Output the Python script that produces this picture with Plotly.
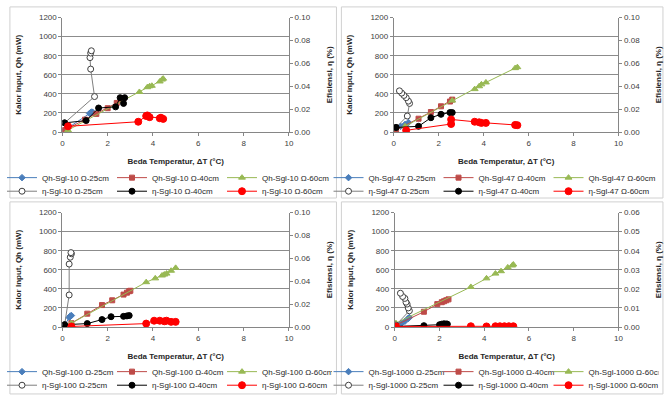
import plotly.graph_objects as go

# ---------------- DATA ----------------
x_ticks = [0, 2, 4, 6, 8, 10]

# Panel 1 : Sgl-10
p1_qh25_x = [0.1, 1.2, 1.25, 1.3, 1.35]
p1_qh25_y = [20, 195, 205, 210, 205]
p1_qh40_x = [0.1, 1.0, 1.5, 2.0, 2.4, 2.6, 2.7]
p1_qh40_y = [20, 130, 190, 250, 305, 340, 355]
p1_qh60_x = [0.25, 3.4, 3.75, 3.85, 3.95, 4.3, 4.4, 4.45]
p1_qh60_y = [20, 420, 470, 480, 485, 530, 550, 560]
p1_e25_x = [0.1, 1.42, 1.25, 1.22, 1.25, 1.28]
p1_e25_y = [0.008, 0.031, 0.055, 0.065, 0.069, 0.071]
p1_e40_x = [0.1, 1.05, 1.6, 2.35, 2.55, 2.75, 2.7]
p1_e40_y = [0.008, 0.010, 0.021, 0.022, 0.030, 0.030, 0.025]
p1_e60_x = [0.25, 3.35, 3.7, 3.75, 3.85, 4.3, 4.35, 4.45]
p1_e60_y = [0.005, 0.009, 0.014, 0.0145, 0.013, 0.012, 0.0125, 0.0115]

# Panel 2 : Sgl-47
p2_qh25_x = [0.1, 0.3, 0.5, 0.65]
p2_qh25_y = [40, 60, 80, 100]
p2_qh40_x = [0.1, 1.1, 1.65, 2.1, 2.5, 2.6]
p2_qh40_y = [20, 140, 210, 270, 320, 340]
p2_qh60_x = [0.5, 2.6, 3.6, 3.8, 3.9, 4.1, 5.4, 5.5]
p2_qh60_y = [60, 330, 450, 480, 500, 520, 670, 680]
p2_e25_x = [0.1, 0.6, 0.7, 0.65, 0.55, 0.45, 0.35, 0.25]
p2_e25_y = [0.004, 0.014, 0.025, 0.027, 0.030, 0.032, 0.034, 0.036]
p2_e40_x = [0.1, 1.1, 1.65, 2.1, 2.5, 2.6]
p2_e40_y = [0.004, 0.005, 0.0125, 0.0155, 0.017, 0.017]
p2_e60_x = [0.55, 2.55, 2.55, 3.6, 3.8, 3.9, 4.1, 5.4, 5.5]
p2_e60_y = [0.0015, 0.007, 0.011, 0.009, 0.0085, 0.008, 0.008, 0.0062, 0.006]

# Panel 3 : Sgl-100
p3_qh25_x = [0.1, 0.3, 0.35, 0.4]
p3_qh25_y = [20, 100, 115, 120]
p3_qh40_x = [0.4, 1.1, 1.75, 2.2, 2.7, 2.85, 2.95, 3.0]
p3_qh40_y = [40, 140, 230, 280, 340, 360, 375, 380]
p3_qh60_x = [0.4, 3.7, 4.1, 4.4, 4.5, 4.6, 4.8, 5.0]
p3_qh60_y = [40, 470, 510, 540, 550, 560, 590, 620]
p3_e25_x = [0.1, 0.3, 0.3, 0.35, 0.4, 0.38]
p3_e25_y = [0.002, 0.028, 0.055, 0.061, 0.064, 0.065]
p3_e40_x = [0.1, 1.1, 1.75, 2.15, 2.7, 2.85, 2.95]
p3_e40_y = [0.002, 0.003, 0.0065, 0.009, 0.0093, 0.0097, 0.010]
p3_e60_x = [0.4, 3.7, 4.05, 4.3, 4.5, 4.6, 4.8, 5.0]
p3_e60_y = [0.0005, 0.003, 0.0055, 0.0055, 0.005, 0.0055, 0.0045, 0.0045]

# Panel 4 : Sgl-1000
p4_qh25_x = [0.05, 0.3, 0.45, 0.6, 0.65]
p4_qh25_y = [20, 40, 60, 90, 100]
p4_qh40_x = [0.05, 1.3, 1.9, 2.1, 2.2, 2.3, 2.4]
p4_qh40_y = [20, 160, 240, 260, 270, 280, 290]
p4_qh60_x = [0.05, 3.4, 4.1, 4.5, 4.75, 5.05, 5.25, 5.3]
p4_qh60_y = [40, 420, 510, 560, 585, 625, 645, 655]
p4_e25_x = [0.05, 0.65, 0.6, 0.55, 0.5, 0.45, 0.35, 0.25]
p4_e25_y = [0.001, 0.0085, 0.010, 0.012, 0.013, 0.015, 0.016, 0.0177]
p4_e40_x = [0.05, 1.3, 2.0, 2.1, 2.2, 2.3, 2.35]
p4_e40_y = [0.0003, 0.0007, 0.0012, 0.0015, 0.0017, 0.0016, 0.0015]
p4_e60_x = [0.05, 3.4, 4.1, 4.5, 4.7, 4.9, 5.1, 5.3]
p4_e60_y = [0.0003, 0.0004, 0.0003, 0.0004, 0.0004, 0.0004, 0.0004, 0.0004]

panel_labels = ["Sgl-10", "Sgl-47", "Sgl-100", "Sgl-1000"]
eta_max = [0.10, 0.10, 0.10, 0.06]
eta_dtick = [0.02, 0.02, 0.02, 0.01]

panels = [
    [(p1_qh25_x, p1_qh25_y), (p1_qh40_x, p1_qh40_y), (p1_qh60_x, p1_qh60_y),
     (p1_e25_x, p1_e25_y), (p1_e40_x, p1_e40_y), (p1_e60_x, p1_e60_y)],
    [(p2_qh25_x, p2_qh25_y), (p2_qh40_x, p2_qh40_y), (p2_qh60_x, p2_qh60_y),
     (p2_e25_x, p2_e25_y), (p2_e40_x, p2_e40_y), (p2_e60_x, p2_e60_y)],
    [(p3_qh25_x, p3_qh25_y), (p3_qh40_x, p3_qh40_y), (p3_qh60_x, p3_qh60_y),
     (p3_e25_x, p3_e25_y), (p3_e40_x, p3_e40_y), (p3_e60_x, p3_e60_y)],
    [(p4_qh25_x, p4_qh25_y), (p4_qh40_x, p4_qh40_y), (p4_qh60_x, p4_qh60_y),
     (p4_e25_x, p4_e25_y), (p4_e40_x, p4_e40_y), (p4_e60_x, p4_e60_y)],
]

# ---------------- STYLE ----------------
W, H = 665, 400
FONT = "Liberation Sans, Arial, sans-serif"
series_style = [
    dict(prefix="Qh", dist="25cm", line="#4A7EBB", sym="diamond", size=5, fill="#4A7EBB", mline="#4A7EBB"),
    dict(prefix="Qh", dist="40cm", line="#BE4B48", sym="square", size=5, fill="#BE4B48", mline="#BE4B48"),
    dict(prefix="Qh", dist="60cm", line="#98B954", sym="triangle-up", size=6, fill="#98B954", mline="#98B954"),
    dict(prefix="η", dist="25cm", line="#7F7F7F", sym="circle", size=6, fill="white", mline="#404040"),
    dict(prefix="η", dist="40cm", line="#000000", sym="circle", size=6, fill="#000000", mline="#000000"),
    dict(prefix="η", dist="60cm", line="#FF0000", sym="circle", size=7, fill="#FF0000", mline="#FF0000"),
]

def px_x(p):
    return p / W

def px_y(p):
    return 1 - p / H

# plot-area pixel boxes: (left, right, top, bottom)
boxes = [(61, 290, 14, 132), (396, 623, 14, 132), (61, 290, 215, 333), (397, 623, 215, 333)]
legend_left_px = [0, 330, 0, 330]

fig = go.Figure()
layout = dict(
    width=W, height=H, margin=dict(l=0, r=0, t=0, b=0),
    paper_bgcolor="white", plot_bgcolor="white",
    font=dict(family=FONT, size=8, color="#404040"),
    showlegend=True,
)

for i, panel in enumerate(panels):
    n = i + 1
    xname = "x" if n == 1 else f"x{n}"
    yl = 2 * n - 1
    yr = 2 * n
    ylname = "y" if yl == 1 else f"y{yl}"
    yrname = f"y{yr}"
    l, r, t, b = boxes[i]
    legA = "legend" if n == 1 else f"legend{2 * n - 1}"
    legB = f"legend{2 * n}"
    for k, (xs, ys) in enumerate(panel):
        st = series_style[k]
        name = f"{st['prefix']}-{panel_labels[i]} Ω-{st['dist']}"
        fig.add_trace(go.Scatter(
            x=xs, y=ys, mode="lines+markers", name=name,
            xaxis=xname, yaxis=(ylname if k < 3 else yrname),
            legend=(legA if k < 3 else legB),
            line=dict(color=st["line"], width=1),
            marker=dict(symbol=st["sym"], size=st["size"], color=st["fill"],
                        line=dict(color=st["mline"], width=1)),
        ))
    xkey = "xaxis" if n == 1 else f"xaxis{n}"
    ylkey = "yaxis" if yl == 1 else f"yaxis{yl}"
    yrkey = f"yaxis{yr}"
    layout[xkey] = dict(
        domain=[px_x(l), px_x(r)], anchor=ylname, range=[0, 10],
        tickvals=x_ticks, ticks="outside", ticklen=3, tickcolor="#868686",
        showline=True, linecolor="#868686", linewidth=1, showgrid=False, zeroline=False,
        tickfont=dict(size=8, color="#404040"),
        title=dict(text="<b>Beda Temperatur, ΔT (°C)</b>", font=dict(size=8, color="#262626"), standoff=11),
    )
    layout[ylkey] = dict(
        domain=[px_y(b), px_y(t)], anchor=xname, range=[0, 1200], dtick=200,
        ticks="outside", ticklen=3, tickcolor="#868686",
        showline=True, linecolor="#868686", linewidth=1,
        showgrid=True, gridcolor="#8C8C8C", gridwidth=1.3, zeroline=False,
        tickfont=dict(size=8, color="#404040"),
        title=dict(text="<b>Kalor Input, Qh (mW)</b>", font=dict(size=8, color="#262626"), standoff=16),
    )
    layout[yrkey] = dict(
        domain=[px_y(b), px_y(t)], anchor=xname, overlaying=ylname, side="right",
        range=[0, eta_max[i]], dtick=eta_dtick[i], tickformat=".2f",
        ticks="outside", ticklen=3, tickcolor="#868686",
        showline=True, linecolor="#868686", linewidth=1, showgrid=False, zeroline=False,
        tickfont=dict(size=8, color="#404040"),
        title=dict(text="<b>Efisiensi, η (%)</b>", font=dict(size=8, color="#262626"), standoff=16),
    )
    row1_y = 179 if i < 2 else 379
    row2_y = 193 if i < 2 else 393
    for key, yy in ((legA, row1_y), (legB, row2_y)):
        layout[key] = dict(
            orientation="h", x=px_x(legend_left_px[i]), xanchor="left",
            y=px_y(yy), yanchor="middle", bgcolor="rgba(0,0,0,0)",
            entrywidth=65, entrywidthmode="pixels", itemwidth=30,
            font=dict(size=8, color="#262626"), tracegroupgap=0,
        )

# chart frames
frames = [(8, 338, 3, 200), (343, 668, 3, 200), (8, 338, 204, 402), (343, 668, 204, 402)]
shapes = []
for (x0, x1, y0, y1) in frames:
    shapes.append(dict(type="rect", xref="paper", yref="paper",
                       x0=px_x(x0), x1=px_x(x1), y0=px_y(y1), y1=px_y(y0),
                       line=dict(color="#D0D0D0", width=1), fillcolor="rgba(0,0,0,0)", layer="below"))
layout["shapes"] = shapes

fig.update_layout(**layout)
fig.write_html("out.html")
